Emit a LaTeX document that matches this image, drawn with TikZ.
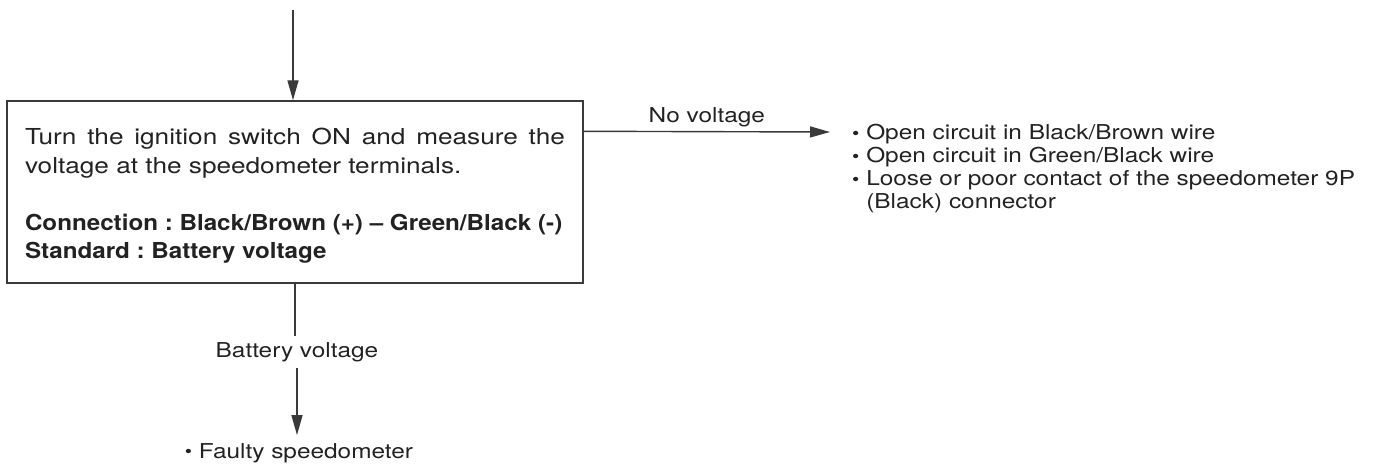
\documentclass[tikz,border=0pt]{standalone}
\usepackage{fontspec}
\setmainfont[FakeStretch=1.19, BoldFeatures={FakeStretch=1.10}]{TeX Gyre Heros}
\usetikzlibrary{arrows.meta}
\definecolor{ink}{HTML}{222222}
\definecolor{wire}{HTML}{3A3A3A}
\newcommand\bul{\raisebox{0.02em}{\scalebox{0.85}{\textbullet}}\ }
\begin{document}
\frenchspacing
\begin{tikzpicture}[x=1pt,y=-1pt,
  every node/.style={text=ink},
  wirestyle/.style={draw=wire, line width=1.4pt},
  arr/.style={wirestyle, -{Triangle[length=20pt,width=11pt]}},
  boxstyle/.style={draw=wire, line width=1.4pt, text width=540pt, align=justify,
    inner xsep=18pt, inner ysep=0pt, minimum height=182pt, minimum width=576pt,
    font=\fontsize{22}{28.5}\selectfont},
  small/.style={font=\fontsize{20.5}{23}\selectfont}]
\useasboundingbox (0,0) rectangle (1397,468);

\node[boxstyle] (box) at (295,192) {\parindent=0pt\frenchspacing\rule{0pt}{24pt}Turn the ignition switch ON and measure the\linebreak voltage at the speedometer terminals.\par\vskip 28.5pt
\mbox{\textbf{Connection : Black/Brown (+) -- Green/Black (-)}}\par
\textbf{Standard : Battery voltage}};

\coordinate (top) at (293,10);
\draw[arr] (top) -- (top |- box.north);

\node[small, anchor=north west, align=left, inner sep=0pt] (causes) at (852,124)
  {\bul Open circuit in Black/Brown wire\\
   \bul Open circuit in Green/Black wire\\
   \bul Loose or poor contact of the speedometer 9P\\
   \phantom{\bul}(Black) connector};

\coordinate (nvstart) at ([yshift=-31pt]box.north east);
\coordinate (nvend) at (830,132);
\draw[arr] (nvstart) -- (nvend) node[small, pos=0.5, above=1pt] (nv) {No voltage};

\node[small, inner sep=6pt] (bv) at (297,352) {Battery voltage};
\node[small, inner ysep=8pt] (faulty) at (299,453) {\bul Faulty speedometer};
\draw[wirestyle] (box.south) -- (box.south |- bv.north);
\draw[arr] (bv.south) -- (bv.south |- faulty.north);
\end{tikzpicture}
\end{document}
